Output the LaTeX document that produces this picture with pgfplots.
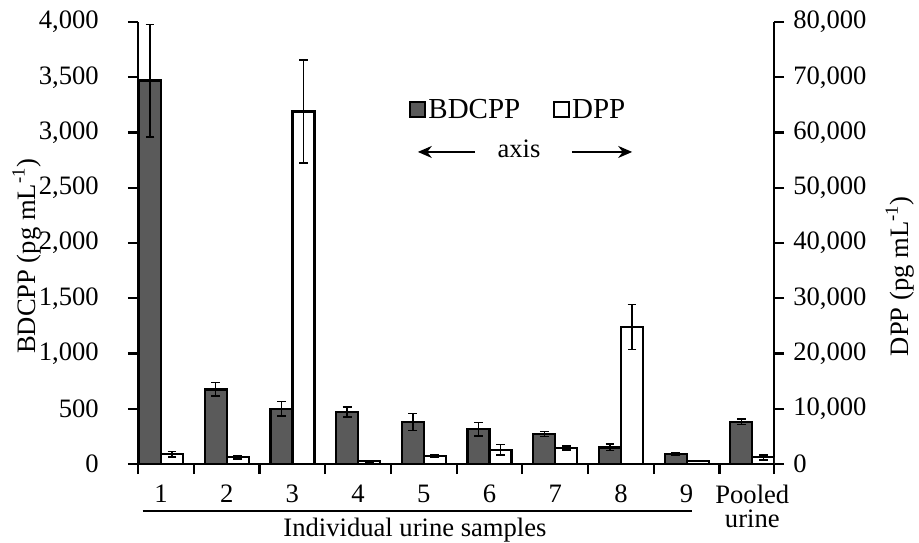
\documentclass[border=0pt]{standalone}
\usepackage{fontspec}
\setmainfont{Liberation Serif}
\usepackage{pgfplots}
\usepackage{pgfplotstable}
\pgfplotsset{compat=1.18}
\usetikzlibrary{arrows.meta}

\definecolor{bardark}{HTML}{5A5A5A}

% sample, value, error
\pgfplotstableread{
x y e
0 3470 510
1 675 60
2 500 65
3 470 45
4 380 75
5 315 60
6 272 22
7 150 30
8 88 10
9 383 25
}\bdcpp

\pgfplotstableread{
x y e
0 1800 500
1 1200 300
2 63800 9300
3 480 100
4 1450 250
5 2600 950
6 2900 350
7 24800 4100
8 520 80
9 1200 450
}\dpp

% half a bar in x units: 5.5pt / (318pt / 9.68)
\def\half{0.1674}

\pgfplotsset{
  twin/.style={
    scale only axis, width=318pt, height=221pt,
    xmin=-0.35, xmax=9.33,
    ymin=0,
    tick align=outside,
    major tick length=5pt,
    every tick/.style={black, line width=1.1pt},
    axis line style={black, line width=1.2pt},
    scaled y ticks=false,
    /pgf/number format/.cd, 1000 sep={,}, assume math mode=true,
  },
  errs/.style={
    error bars/.cd, y dir=both, y explicit,
    error bar style={black, line width=0.7pt},
    error mark options={rotate=90, mark size=2.2pt, line width=0.7pt, black},
  },
}

\begin{document}
\fontsize{13.3}{16}\selectfont
\begin{tikzpicture}
\path[use as bounding box] (-69pt,-39pt) rectangle (390.5pt,232pt);

\begin{axis}[twin,
  axis x line*=bottom, axis y line*=left,
  ymax=4000, ytick={0,500,...,4000},
  yticklabel style={xshift=-10pt},
  xtick={-0.35,0.5,1.5,2.5,3.5,4.5,5.5,6.5,7.5,8.5,9.33},
  xticklabels={},
  extra x ticks={0,1,2,3,4,5,6,7,8,9},
  extra x tick labels={1,2,3,4,5,6,7,8,9,{Pooled\\[-4pt]urine}},
  extra x tick style={major tick length=0pt,
    tick label style={align=center, yshift=-6pt}},
  ylabel={BDCPP (pg mL\textsuperscript{-1})},
  ylabel style={at={(axis description cs:-0.175,0.47)}, anchor=center},
  xlabel={Individual urine samples},
  xlabel style={at={(axis description cs:0.4355,-0.15)}, anchor=center},
  clip=false,
]
\addplot[ybar, bar width=11pt, bar shift=0pt, fill=bardark, draw=black,
  line width=1.1pt, errs]
  table[x expr=\thisrow{x}-\half, y=y, y error=e] {\bdcpp};

% underline below the individual samples
\draw[line width=0.7pt] ([yshift=-23.5pt]axis cs:-0.28,0) -- ([yshift=-23.5pt]axis cs:8.08,0);

% legend and axis hint
\draw[fill=bardark, line width=1.1pt] (axis description cs:0.4395,0.802) ++(-3.8pt,-3.8pt) rectangle ++(7.6pt,7.6pt);
\node[anchor=west, inner sep=0pt, font=\fontsize{14.5}{16}\selectfont] at (axis description cs:0.456,0.802) {BDCPP};
\draw[fill=white, line width=1.1pt] (axis description cs:0.6655,0.802) ++(-3.8pt,-3.8pt) rectangle ++(7.6pt,7.6pt);
\node[anchor=west, inner sep=0pt, font=\fontsize{14.5}{16}\selectfont] at (axis description cs:0.682,0.802) {DPP};
\draw[line width=0.9pt, -{Stealth[length=7pt, width=6pt]}] (axis description cs:0.53,0.706) -- (axis description cs:0.44,0.706);
\node at (axis description cs:0.599,0.712) {axis};
\draw[line width=0.9pt, -{Stealth[length=7pt, width=6pt]}] (axis description cs:0.682,0.706) -- (axis description cs:0.777,0.706);
\end{axis}

\begin{axis}[twin,
  axis x line=none, axis y line*=right,
  ymax=80000, ytick={0,10000,...,80000},
  ylabel={DPP (pg mL\textsuperscript{-1})},
  ylabel style={at={(axis description cs:1.198,0.425)}, anchor=center},
]
\addplot[ybar, bar width=11pt, bar shift=0pt, fill=white, draw=black,
  line width=1.1pt, errs]
  table[x expr=\thisrow{x}+\half, y=y, y error=e] {\dpp};
\end{axis}
\end{tikzpicture}
\end{document}
